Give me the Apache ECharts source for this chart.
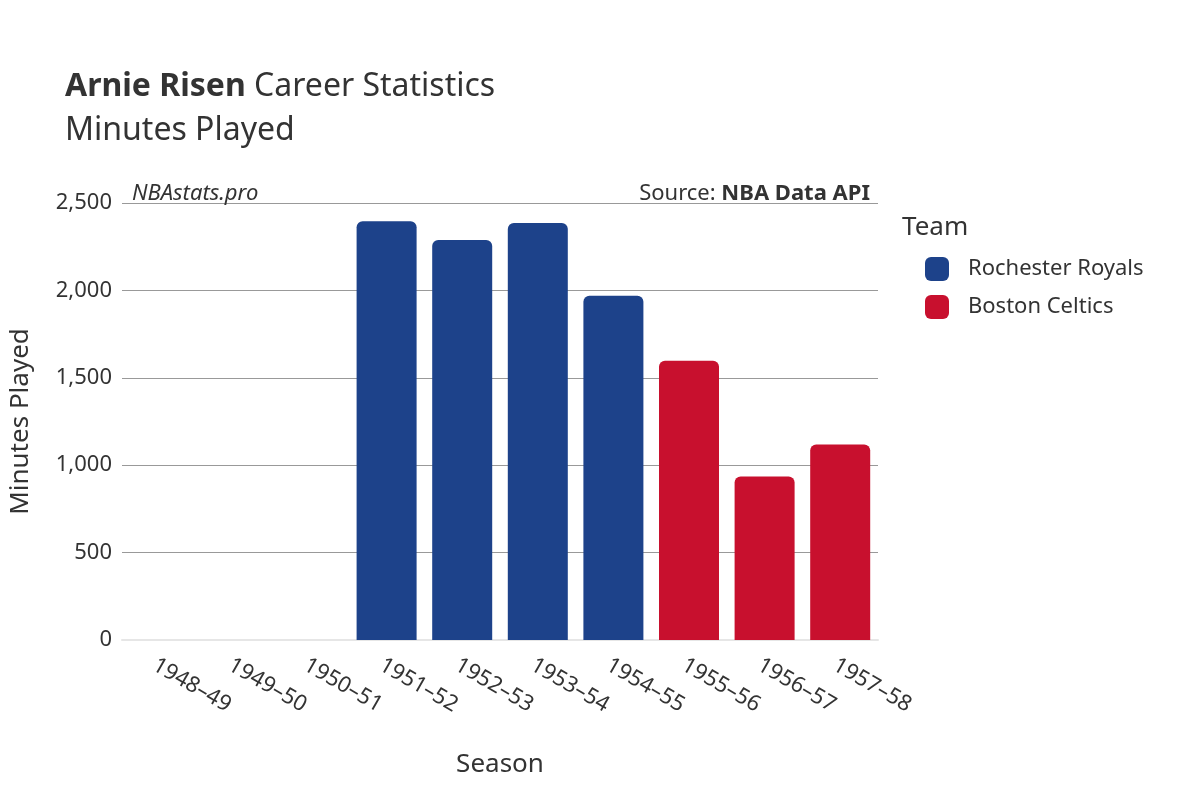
<!DOCTYPE html>
<html><head><meta charset="utf-8">
<script src="https://cdn.jsdelivr.net/npm/echarts@6/dist/echarts.min.js"></script>
<style>html,body{margin:0;padding:0;background:#fff}#c{width:1200px;height:800px}</style>
</head><body><div id="c"></div>
<script>
const seasons=["1948–49","1949–50","1950–51","1951–52","1952–53","1953–54","1954–55","1955–56","1956–57","1957–58"];
const royals=[null,null,null,2396,2288,2385,1970,null,null,null];
const celtics=[null,null,null,null,null,null,null,1597,935,1119];
const yTicks=[0,500,1000,1500,2000,2500];
const chart=echarts.init(document.getElementById('c'));
const F='"Noto Sans", "DejaVu Sans", sans-serif';
chart.setOption({
 animation:false,
 textStyle:{fontFamily:F},
 title:[
  {left:60,top:66,text:'{b|Arnie Risen} Career Statistics',textStyle:{fontSize:32,fontWeight:'normal',color:'#333',fontFamily:F,rich:{b:{fontSize:32,fontWeight:'bold',color:'#333',fontFamily:F}}}},
  {left:60,top:110,text:'Minutes Played',textStyle:{fontSize:32,fontWeight:'normal',color:'#333',fontFamily:F}},
  {left:127,top:178,text:'NBAstats.pro',textStyle:{fontSize:22,fontStyle:'italic',fontWeight:'normal',color:'#333',fontFamily:F}},
  {right:325,top:178,text:'Source: {b|NBA Data API}',textStyle:{fontSize:22,fontWeight:'normal',color:'#333',fontFamily:F,rich:{b:{fontSize:22,fontWeight:'bold',color:'#333',fontFamily:F}}}},
  {left:897,top:210,text:'Team',textStyle:{fontSize:26,fontWeight:'normal',color:'#333',fontFamily:F}}
 ],
 legend:{left:920,top:252,orient:'vertical',itemGap:14,itemWidth:24,itemHeight:24,icon:'roundRect',
  textStyle:{fontSize:22,color:'#333',fontFamily:F,padding:[0,0,0,14]},data:['Rochester Royals','Boston Celtics']},
 grid:{left:120,right:322,top:203,bottom:160},
 xAxis:{type:'category',data:seasons,name:'Season',nameLocation:'middle',nameGap:112,
  nameTextStyle:{fontSize:26,color:'#333'},
  axisLine:{show:true,lineStyle:{color:'#e6e6e6',width:2}},axisTick:{show:false},
  axisLabel:{rotate:-30,fontSize:22,color:'#333',margin:14,align:'left',verticalAlign:'top'}},
 yAxis:{type:'value',min:0,max:2500,interval:500,name:'Minutes Played',nameLocation:'middle',nameGap:88,
  nameTextStyle:{fontSize:26,color:'#333'},
  axisLabel:{fontSize:22,color:'#333',margin:10},
  splitLine:{lineStyle:{color:'#999',width:1}},axisLine:{show:false},axisTick:{show:false}},
 series:[
  {name:'Rochester Royals',type:'bar',data:royals,barWidth:60,barGap:'-100%',itemStyle:{color:'#1d428a',borderRadius:[6,6,0,0]}},
  {name:'Boston Celtics',type:'bar',data:celtics,barWidth:60,barGap:'-100%',itemStyle:{color:'#c8102e',borderRadius:[6,6,0,0]}}
 ]
});
</script></body></html>
